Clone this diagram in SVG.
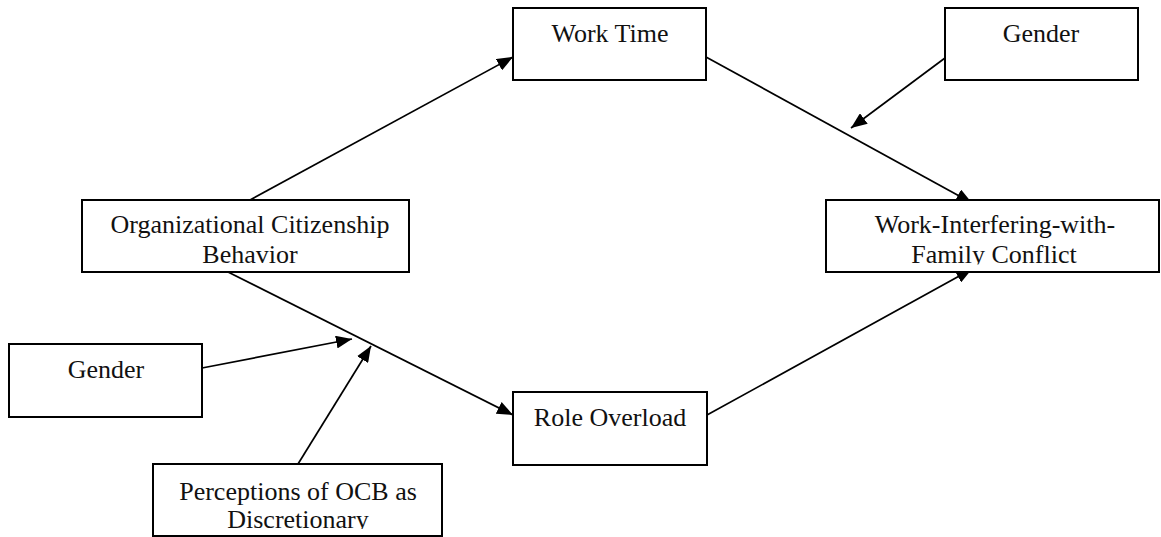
<svg xmlns="http://www.w3.org/2000/svg" width="1161" height="537" viewBox="0 0 1161 537">
<style>
.box{fill:#fff;stroke:#000;stroke-width:2}
.lbl{font-family:"Liberation Serif","Times New Roman",serif;font-size:26px;fill:#111;text-anchor:middle}
.conn{stroke:#000;stroke-width:1.7;fill:none;marker-end:url(#ah)}
</style>
<defs>
<marker id="ah" markerUnits="userSpaceOnUse" markerWidth="16" markerHeight="13" refX="16" refY="6.5" orient="auto">
<path d="M0,0 L16,6.5 L0,13 z" fill="#000"/>
</marker>
<clipPath id="clipW"><rect x="826" y="200" width="334" height="64.5"/></clipPath>
<clipPath id="clipP"><rect x="153" y="464" width="289" height="65"/></clipPath>
</defs>
<rect width="1161" height="537" fill="#fff"/>
<g id="connectors">
<line class="conn" x1="250" y1="200" x2="513" y2="57"/>
<line class="conn" x1="228" y1="272" x2="513" y2="415"/>
<line class="conn" x1="706" y1="57" x2="972" y2="203"/>
<line class="conn" x1="945" y1="58" x2="851" y2="128"/>
<line class="conn" x1="202" y1="368" x2="352" y2="339"/>
<line class="conn" x1="298" y1="464" x2="371" y2="346"/>
<line class="conn" x1="707" y1="415" x2="972" y2="269"/>
</g>
<g id="work-time">
<rect class="box" x="513" y="8" width="193" height="72"/>
<text class="lbl" x="610" y="42">Work Time</text>
</g>
<g id="gender-right">
<rect class="box" x="945" y="8" width="193" height="72"/>
<text class="lbl" x="1041" y="42">Gender</text>
</g>
<g id="ocb">
<rect class="box" x="82" y="200" width="327" height="72"/>
<text class="lbl" x="250" y="233">Organizational Citizenship</text>
<text class="lbl" x="250" y="263">Behavior</text>
</g>
<g id="wifc">
<rect class="box" x="826" y="200" width="333" height="72"/>
<g clip-path="url(#clipW)">
<text class="lbl" x="995" y="233">Work-Interfering-with-</text>
<text class="lbl" x="994" y="263">Family Conflict</text>
</g>
</g>
<g id="gender-left">
<rect class="box" x="9" y="344" width="193" height="73"/>
<text class="lbl" x="106" y="378">Gender</text>
</g>
<g id="role-overload">
<rect class="box" x="513" y="392" width="194" height="73"/>
<text class="lbl" x="610" y="426">Role Overload</text>
</g>
<g id="perceptions">
<rect class="box" x="153" y="464" width="289" height="72"/>
<g clip-path="url(#clipP)">
<text class="lbl" x="298" y="500">Perceptions of OCB as</text>
<text class="lbl" x="298" y="528">Discretionary</text>
</g>
</g>
</svg>
